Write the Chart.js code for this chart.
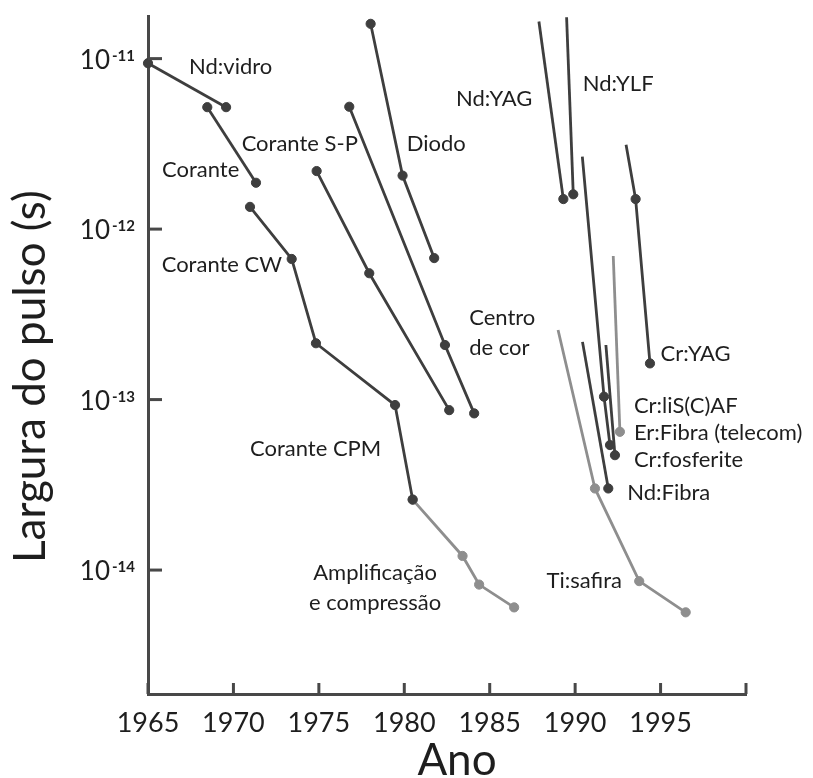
<!DOCTYPE html>
<html>
<head>
<meta charset="utf-8">
<title>Largura do pulso por ano</title>
<script src="https://cdn.jsdelivr.net/npm/chart.js@4.4.1/dist/chart.umd.min.js"></script>
<style>
    html, body { margin: 0; padding: 0; background: #ffffff; }
    #wrap { width: 813px; height: 778px; }
</style>
</head>
<body>
<div id="wrap"><canvas id="pulseChart" width="813" height="778"></canvas></div>
<script>
// anos (eixo x) e larguras de pulso em segundos (eixo y), uma dupla por tipo de laser
const ndVidroAnos = [1965.0, 1969.57];
const ndVidroLarg = [9.4e-12, 5.19e-12];

const coranteAnos = [1968.47, 1971.32];
const coranteLarg = [5.19e-12, 1.87e-12];

const coranteCwAnos = [1970.97, 1973.41, 1974.83, 1979.46, 1980.49];
const coranteCwLarg = [1.35e-12, 6.68e-13, 2.14e-13, 9.29e-14, 2.59e-14];

const amplifAnos = [1980.49, 1983.41, 1984.38, 1986.43];
const amplifLarg = [2.59e-14, 1.21e-14, 8.22e-15, 6.04e-15];

const coranteSpAnos = [1974.87, 1977.95, 1982.63];
const coranteSpLarg = [2.19e-12, 5.51e-13, 8.67e-14];

const centroCorAnos = [1976.78, 1982.38, 1984.09];
const centroCorLarg = [5.22e-12, 2.09e-13, 8.30e-14];

const diodoAnos = [1978.03, 1979.90, 1981.75];
const diodoLarg = [1.60e-11, 2.06e-12, 6.76e-13];

const ndYagAnos = [1987.88, 1989.31];
const ndYagLarg = [1.65e-11, 1.50e-12];

const ndYlfAnos = [1989.50, 1989.89];
const ndYlfLarg = [1.75e-11, 1.60e-12];

const crYagAnos = [1992.98, 1993.54, 1994.38];
const crYagLarg = [3.12e-12, 1.50e-12, 1.63e-13];

const crLisafAnos = [1990.42, 1991.69, 1992.04];
const crLisafLarg = [2.66e-12, 1.04e-13, 5.41e-14];

const crFosfAnos = [1991.80, 1992.33];
const crFosfLarg = [2.09e-13, 4.72e-14];

const ndFibraAnos = [1990.43, 1991.94];
const ndFibraLarg = [2.18e-13, 3.01e-14];

const erFibraAnos = [1992.23, 1992.62];
const erFibraLarg = [6.95e-13, 6.47e-14];

const tiSafiraAnos = [1989.00, 1991.16, 1993.75, 1996.47];
const tiSafiraLarg = [2.56e-13, 3.01e-14, 8.61e-15, 5.65e-15];

// marcas dos eixos
const anosMarcas = [1965, 1970, 1975, 1980, 1985, 1990, 1995, 2000];
const anosRotulos = ["1965", "1970", "1975", "1980", "1985", "1990", "1995", ""];
const expoentes = [-11, -12, -13, -14];

// nomes escritos no gráfico: texto, ano, largura
const rotulos = [
    ["Nd:vidro", 1967.40, 9.1e-12],
    ["Corante", 1965.82, 2.25e-12],
    ["Corante S-P", 1970.48, 3.2e-12],
    ["Diodo", 1980.14, 3.2e-12],
    ["Nd:YAG", 1983.03, 5.88e-12],
    ["Nd:YLF", 1990.44, 7.23e-12],
    ["Corante CW", 1965.80, 6.24e-13],
    ["Centro", 1983.80, 3.06e-13],
    ["de cor", 1983.80, 2.04e-13],
    ["Corante CPM", 1970.97, 5.18e-14],
    ["Cr:YAG", 1995.00, 1.87e-13],
    ["Cr:liS(C)AF", 1993.44, 9.29e-14],
    ["Er:Fibra (telecom)", 1993.44, 6.47e-14],
    ["Cr:fosferite", 1993.44, 4.46e-14],
    ["Nd:Fibra", 1993.05, 2.88e-14],
    ["Ti:safira", 1988.33, 8.73e-15],
];
const rotulosCentrados = [
    ["Amplificação", 1978.29, 9.75e-15],
    ["e compressão", 1978.29, 6.5e-15],
];

const escuro = "#3e3e3e";
const claro = "#8e8e8e";
const corEixo = "#484848";
const corTexto = "#1e1e1e";
const fonte = "Lato, 'Open Sans', sans-serif";

function serie(nome, anos, larg, cor, inicioSemPonto) {
    return {
        label: nome,
        data: anos.map((a, i) => ({ x: a, y: larg[i] })),
        borderColor: cor,
        backgroundColor: cor,
        pointBackgroundColor: cor,
        pointBorderColor: cor,
        borderWidth: 2.8,
        pointBorderWidth: 1,
        pointRadius: anos.map((a, i) => (inicioSemPonto && i === 0 ? 0 : 4.6)),
        tension: 0,
        clip: false,
    };
}

// o Chart.js desenha o primeiro conjunto por cima, então os escuros vêm antes
const datasets = [
    serie("Nd:vidro", ndVidroAnos, ndVidroLarg, escuro, false),
    serie("Corante", coranteAnos, coranteLarg, escuro, false),
    serie("Corante CW", coranteCwAnos, coranteCwLarg, escuro, false),
    serie("Corante S-P", coranteSpAnos, coranteSpLarg, escuro, false),
    serie("Centro de cor", centroCorAnos, centroCorLarg, escuro, false),
    serie("Diodo", diodoAnos, diodoLarg, escuro, false),
    serie("Nd:YAG", ndYagAnos, ndYagLarg, escuro, true),
    serie("Nd:YLF", ndYlfAnos, ndYlfLarg, escuro, true),
    serie("Cr:YAG", crYagAnos, crYagLarg, escuro, true),
    serie("Cr:liS(C)AF", crLisafAnos, crLisafLarg, escuro, true),
    serie("Cr:fosferite", crFosfAnos, crFosfLarg, escuro, true),
    serie("Nd:Fibra", ndFibraAnos, ndFibraLarg, escuro, true),
    serie("Amplificação e compressão", amplifAnos, amplifLarg, claro, false),
    serie("Ti:safira", tiSafiraAnos, tiSafiraLarg, claro, true),
    serie("Er:Fibra (telecom)", erFibraAnos, erFibraLarg, claro, true),
];

// marcas para dentro, rótulos dos eixos e nomes dos lasers
const decoracao = {
    id: "decoracao",
    afterDraw(chart) {
        const { ctx, scales: { x, y } } = chart;
        ctx.save();

        ctx.strokeStyle = corEixo;
        ctx.lineWidth = 3;
        anosMarcas.forEach((a) => {
            const px = x.getPixelForValue(a);
            ctx.beginPath();
            ctx.moveTo(px, y.bottom);
            ctx.lineTo(px, y.bottom - 11);
            ctx.stroke();
        });
        expoentes.forEach((e) => {
            const py = y.getPixelForValue(Math.pow(10, e));
            ctx.beginPath();
            ctx.moveTo(x.left, py);
            ctx.lineTo(x.left + 14, py);
            ctx.stroke();
        });

        ctx.fillStyle = corTexto;

        // anos
        ctx.font = "27px " + fonte;
        ctx.textAlign = "center";
        ctx.textBaseline = "alphabetic";
        anosMarcas.forEach((a, i) => {
            ctx.fillText(anosRotulos[i], x.getPixelForValue(a), y.bottom + 38);
        });

        // potências de dez
        expoentes.forEach((e) => {
            const py = y.getPixelForValue(Math.pow(10, e));
            ctx.font = "bold 15px " + fonte;
            ctx.textAlign = "right";
            ctx.fillText(String(e), x.left - 13, py + 2);
            const w = ctx.measureText(String(e)).width;
            ctx.font = "26px " + fonte;
            ctx.fillText("10", x.left - 13 - w - 2, py + 10);
        });

        // títulos dos eixos
        ctx.font = "44px " + fonte;
        ctx.textAlign = "center";
        ctx.fillText("Ano", (x.left + x.right) / 2 + 10, y.bottom + 81);

        ctx.save();
        ctx.translate(45, 563);
        ctx.rotate(-Math.PI / 2);
        ctx.textAlign = "left";
        ctx.fillText("Largura do pulso (s)", 0, 0);
        ctx.restore();

        // nomes dos lasers
        ctx.font = "22px " + fonte;
        ctx.textAlign = "left";
        rotulos.forEach(([t, a, v]) => {
            ctx.fillText(t, x.getPixelForValue(a), y.getPixelForValue(v) + 8);
        });
        ctx.textAlign = "center";
        rotulosCentrados.forEach(([t, a, v]) => {
            ctx.fillText(t, x.getPixelForValue(a), y.getPixelForValue(v) + 8);
        });

        ctx.restore();
    },
};

const ctx = document.getElementById("pulseChart");

new Chart(ctx, {
    type: "line",
    data: { datasets: datasets },
    options: {
        responsive: false,
        animation: false,
        devicePixelRatio: 1,
        layout: {
            padding: { left: 148, right: 67, top: 16, bottom: 84 },
        },
        plugins: {
            legend: { display: false },
            tooltip: { enabled: false },
        },
        scales: {
            x: {
                type: "linear",
                min: 1965,
                max: 2000,
                grid: { display: false, drawTicks: false },
                border: { display: true, color: corEixo, width: 3 },
                ticks: { display: false },
            },
            y: {
                type: "logarithmic",
                min: Math.pow(10, -14.727),
                max: Math.pow(10, -10.75),
                grid: { display: false, drawTicks: false },
                border: { display: true, color: corEixo, width: 3 },
                ticks: { display: false },
            },
        },
    },
    plugins: [decoracao],
});
</script>
</body>
</html>
